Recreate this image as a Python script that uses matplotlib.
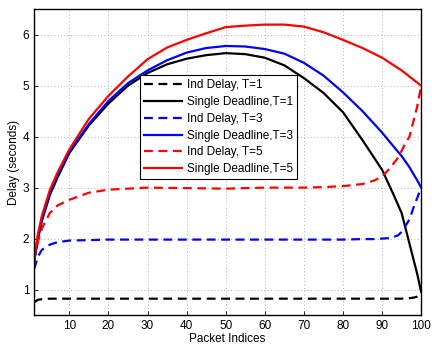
import matplotlib.pyplot as plt

plt.rcParams['font.family'] = ['Liberation Sans', 'DejaVu Sans']

# packet indices where values were read
x_sd = [1, 2, 3, 5, 7, 10, 15, 20, 25, 30, 35, 40, 45, 50, 55, 60, 65, 70,
        75, 80, 85, 90, 93, 95, 97, 98, 99, 100]
sd_t1 = [1.55, 2.0, 2.35, 2.85, 3.2, 3.68, 4.22, 4.65, 5.0, 5.25, 5.42, 5.53,
         5.6, 5.64, 5.62, 5.55, 5.4, 5.15, 4.86, 4.48, 3.93, 3.35, 2.85, 2.5,
         1.9, 1.6, 1.3, 0.95]
sd_t3 = [1.55, 2.05, 2.4, 2.9, 3.25, 3.7, 4.25, 4.7, 5.05, 5.3, 5.5, 5.65,
         5.74, 5.78, 5.77, 5.72, 5.63, 5.45, 5.2, 4.87, 4.5, 4.08, 3.8, 3.62,
         3.4, 3.27, 3.14, 3.0]
sd_t5 = [1.6, 2.1, 2.45, 2.95, 3.3, 3.75, 4.35, 4.8, 5.18, 5.52, 5.75, 5.9,
         6.03, 6.15, 6.18, 6.2, 6.2, 6.16, 6.05, 5.9, 5.74, 5.55, 5.4, 5.3,
         5.18, 5.12, 5.06, 5.0]

x_ind = [1, 2, 3, 5, 7, 10, 15, 20, 25, 30, 40, 50, 60, 70, 75, 80, 85, 88,
         90, 92, 94, 95, 96, 97, 98, 99, 100]
ind_t1 = [0.75, 0.8, 0.81, 0.82, 0.82, 0.82, 0.82, 0.82, 0.82, 0.82, 0.82,
          0.82, 0.82, 0.82, 0.82, 0.82, 0.82, 0.82, 0.82, 0.82, 0.82, 0.82,
          0.83, 0.83, 0.84, 0.86, 0.9]
ind_t3 = [1.4, 1.65, 1.78, 1.88, 1.93, 1.96, 1.97, 1.98, 1.98, 1.98, 1.98,
          1.98, 1.98, 1.98, 1.98, 1.98, 1.99, 1.99, 2.0, 2.01, 2.06, 2.13,
          2.25, 2.38, 2.6, 2.8, 3.0]
ind_t5 = [1.6, 1.95, 2.2, 2.5, 2.65, 2.76, 2.9, 2.96, 2.98, 3.0, 2.99, 2.98,
          3.0, 3.0, 3.01, 3.03, 3.07, 3.14, 3.22, 3.38, 3.58, 3.72, 3.88, 4.0,
          4.3, 4.6, 5.0]

fig = plt.figure(figsize=(4.32, 3.45), dpi=100)
ax = fig.add_axes([0.079, 0.087, 0.896, 0.886])

dash = (4, 2.5)
ax.plot(x_ind, ind_t1, color='black', lw=1.6, dashes=dash, label='Ind Delay, T=1')
ax.plot(x_sd, sd_t1, color='black', lw=1.6, label='Single Deadline,T=1')
ax.plot(x_ind, ind_t3, color='blue', lw=1.6, dashes=dash, label='Ind Delay, T=3')
ax.plot(x_sd, sd_t3, color='blue', lw=1.6, label='Single Deadline,T=3')
ax.plot(x_ind, ind_t5, color='red', lw=1.6, dashes=dash, label='Ind Delay, T=5')
ax.plot(x_sd, sd_t5, color='red', lw=1.6, label='Single Deadline,T=5')

ax.set_xlim(1, 100)
ax.set_ylim(0.5, 6.5)
ax.set_xticks(range(10, 101, 10))
ax.set_yticks(range(1, 7))
ax.tick_params(direction='in', labelsize=8.5, length=3, width=0.6)
ax.grid(True, color='#999999', lw=0.6, dashes=(1, 3))
for s in ax.spines.values():
    s.set_linewidth(1.0)

ax.set_xlabel('Packet Indices', fontsize=8.5, labelpad=1)
ax.set_ylabel('Delay (seconds)', fontsize=8.5, labelpad=2)

leg = ax.legend(loc='upper left', bbox_to_anchor=(0.274, 0.784), borderaxespad=0,
                fontsize=8.5, handlelength=3.2, fancybox=False, framealpha=1,
                edgecolor='black', labelspacing=0.4, borderpad=0.35,
                handletextpad=0.4)
leg.get_frame().set_linewidth(0.8)

fig.savefig('out.png', dpi=100)
